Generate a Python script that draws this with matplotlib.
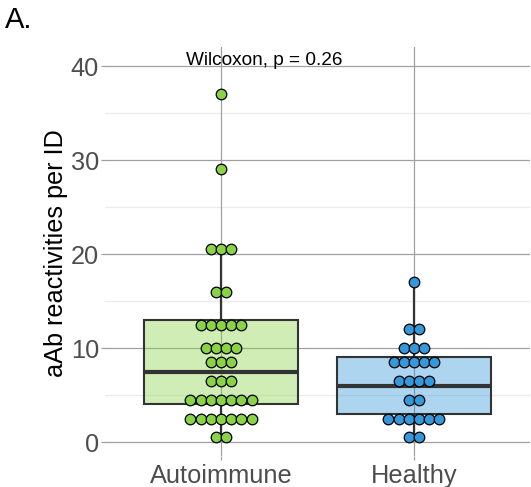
import matplotlib
matplotlib.use("Agg")
import matplotlib.pyplot as plt
import numpy as np

plt.rcParams['font.family'] = ['Liberation Sans', 'DejaVu Sans']

# Groups and per-subject reactivity counts (binned dot positions)
groups = ["Autoimmune", "Healthy"]
autoimmune = [37, 29, 20.5, 20.5, 20.5, 16, 16,
              12.5, 12.5, 12.5, 12.5, 12.5,
              10, 10, 10, 10,
              8.5, 8.5, 8.5,
              6.5, 6.5, 6.5,
              4.5, 4.5, 4.5, 4.5, 4.5, 4.5, 4.5,
              2.5, 2.5, 2.5, 2.5, 2.5, 2.5, 2.5,
              0.5, 0.5]
healthy = [17, 12, 12,
           10, 10, 10,
           8.5, 8.5, 8.5, 8.5, 8.5,
           6.5, 6.5, 6.5, 6.5,
           4.5, 4.5,
           2.5, 2.5, 2.5, 2.5, 2.5, 2.5,
           0.5, 0.5]

# Box summaries: lower whisker, Q1, median, Q3, upper whisker
box_auto = [0.5, 4, 7.5, 13, 20.5]
box_healthy = [0.5, 3, 6, 9, 17]

colors = ["#8BD346", "#3498DB"]
y_ticks = [0, 10, 20, 30, 40]
y_minor = [5, 15, 25, 35]
p_label = "Wilcoxon, p = 0.26"

W, H = 531, 487
fig = plt.figure(figsize=(W / 100, H / 100), dpi=100)
ax = fig.add_axes([105.2 / W, (H - 456.1) / H, (529.8 - 105.2) / W, 408.9 / H])
ax.set_xlim(0.4, 2.6)
ax.set_ylim(-1.5, 42)

# grid
for v in y_minor:
    ax.axhline(v, color="#ebebeb", lw=0.9, zorder=0)
for v in y_ticks:
    ax.axhline(v, color="#a0a0a0", lw=0.9, zorder=0)
for i in range(len(groups)):
    ax.axvline(i + 1, color="#a0a0a0", lw=0.9, zorder=0)

data = [autoimmune, healthy]
boxes = [box_auto, box_healthy]
box_w = 0.8
dot_step = 10.2 / 193.0
dark = "#333333"

for i, (vals, st, col) in enumerate(zip(data, boxes, colors)):
    x = i + 1
    lo, q1, med, q3, hi = st
    # whiskers
    ax.plot([x, x], [q3, hi], color=dark, lw=1.6, zorder=1, solid_capstyle="butt")
    ax.plot([x, x], [lo, q1], color=dark, lw=1.6, zorder=1, solid_capstyle="butt")
    # box
    rect = plt.Rectangle((x - box_w / 2, q1), box_w, q3 - q1,
                         facecolor=col, alpha=0.4, edgecolor="none", zorder=2)
    ax.add_patch(rect)
    rect2 = plt.Rectangle((x - box_w / 2, q1), box_w, q3 - q1,
                          facecolor="none", edgecolor=dark, lw=1.5, zorder=2)
    ax.add_patch(rect2)
    ax.plot([x - box_w / 2, x + box_w / 2], [med, med], color=dark, lw=3.0,
            zorder=2, solid_capstyle="butt")
    # centred dot stacks
    levels, counts = np.unique(vals, return_counts=True)
    xs, ys = [], []
    for lv, n in zip(levels, counts):
        offs = (np.arange(n) - (n - 1) / 2.0) * dot_step
        xs.extend(x + offs)
        ys.extend([lv] * n)
    ax.scatter(xs, ys, s=58, facecolor=col, edgecolor="black", linewidth=0.9, zorder=3)

ax.text(1.225, 40.1, p_label, ha="center", va="baseline", fontsize=13.7, color="black", zorder=4)

ax.set_xticks([1, 2])
ax.set_xticklabels(groups)
ax.set_yticks(y_ticks)
ax.tick_params(axis="both", colors="#a0a0a0", labelcolor="#4d4d4d", labelsize=18.3,
               length=3, width=0.9)
ax.tick_params(axis="y", pad=1.5)
ax.tick_params(axis="x", pad=3)
for s in ax.spines.values():
    s.set_visible(False)

fig.text(56 / W, 1 - 253.5 / H, "aAb reactivities per ID", rotation=90,
         ha="center", va="center", fontsize=18.2, color="black")
fig.text(5 / W, 1 - 28 / H, "A.", ha="left", va="baseline", fontsize=21, color="black")

fig.savefig("out.png", dpi=100)
